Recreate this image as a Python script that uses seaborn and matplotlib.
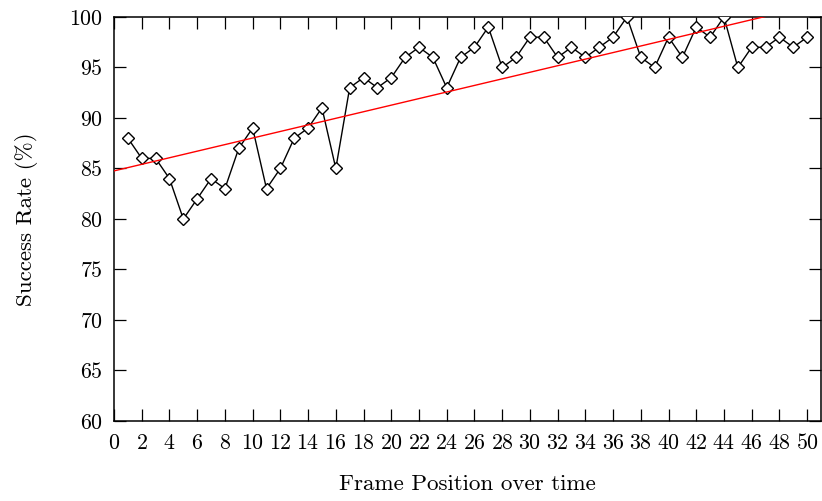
import numpy as np
import pandas as pd
import matplotlib
matplotlib.use("Agg")
import matplotlib.pyplot as plt
import seaborn as sns

frames = list(range(1, 51))
success = [88, 86, 86, 84, 80, 82, 84, 83, 87, 89,
           83, 85, 88, 89, 91, 85, 93, 94, 93, 94,
           96, 97, 96, 93, 96, 97, 99, 95, 96, 98,
           98, 96, 97, 96, 97, 98, 100, 96, 95, 98,
           96, 99, 98, 100, 95, 97, 97, 98, 97, 98]
x_ticks = list(range(0, 51, 2))
y_ticks = list(range(60, 101, 5))

sns.set_style("ticks")
plt.rcParams["font.family"] = ["cmr10", "DejaVu Serif"]
plt.rcParams["axes.formatter.use_mathtext"] = True
plt.rcParams["font.size"] = 15.5
plt.rcParams["text.color"] = "black"
plt.rcParams["axes.labelcolor"] = "black"

df = pd.DataFrame({"frame": frames, "success": success})
slope, intercept = np.polyfit(df["frame"], df["success"], 1)
trend = pd.DataFrame({"frame": [0, 51]})
trend["fit"] = intercept + slope * trend["frame"]

fig = plt.figure(figsize=(8.22, 5.01), dpi=100)
ax = fig.add_axes([0.1387, 0.1597, 0.8601, 0.8064])

sns.lineplot(data=df, x="frame", y="success", ax=ax, color="black",
             linewidth=1.0, marker="D", markersize=6.2, markerfacecolor="white",
             markeredgecolor="black", markeredgewidth=1.0, zorder=3)
sns.lineplot(data=trend, x="frame", y="fit", ax=ax, color="red",
             linewidth=1.0, zorder=4)

ax.set_xlim(0, 51)
ax.set_ylim(60, 100)
ax.set_xticks(x_ticks)
ax.set_yticks(y_ticks)
ax.tick_params(direction="in", length=8.5, width=0.9, top=True, right=True,
               labelsize=15.8, pad=8, colors="black")
ax.tick_params(axis="x", pad=9)
for s in ax.spines.values():
    s.set_visible(True)
    s.set_linewidth(1.1)
    s.set_color("black")

ax.set_xlabel("Frame Position over time", fontsize=16.6, labelpad=15, color="black")
ax.set_ylabel("Success Rate (%)", fontsize=16.6, labelpad=22, color="black")

fig.savefig("out.png", dpi=100)
